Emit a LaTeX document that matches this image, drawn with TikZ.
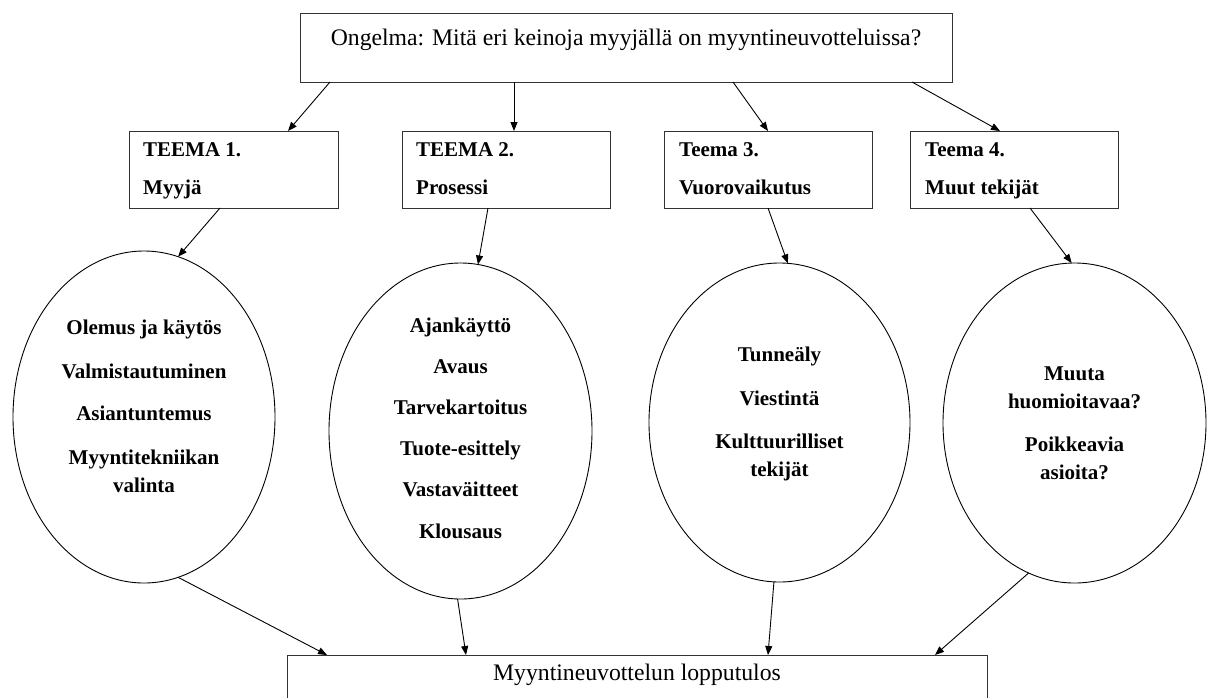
\documentclass[tikz,border=0pt]{standalone}
\usepackage{fontspec}
\setmainfont{Liberation Serif}
\usetikzlibrary{arrows.meta,shapes.geometric}

\tikzset{
  frame/.style={draw=black!80, line width=1pt, rectangle, inner sep=0pt, outer sep=0pt},
  oval/.style={draw=black, line width=0.9pt, ellipse, inner sep=0pt, outer sep=0pt},
  link/.style={draw=black, line width=0.9pt, -{Triangle[length=9pt,width=7pt]}},
  plain/.style={font=\fontsize{23.7}{28}\selectfont, inner sep=0pt},
  theme/.style={font=\fontsize{21}{28}\selectfont\bfseries, inner sep=0pt, anchor=base west},
  items/.style={font=\fontsize{21}{28}\selectfont\bfseries, align=center, inner sep=0pt}
}

\begin{document}
\begin{tikzpicture}[x=1pt, y=-1pt]
\useasboundingbox (0,0) rectangle (1213,697);

% problem statement
\node[frame, minimum width=652pt, minimum height=69pt] (top) at (626,47.5) {};
\node[plain, anchor=base] (toptxt) at (626,45) {Ongelma: Mitä eri keinoja myyjällä on myyntineuvotteluissa?};

% themes
\node[frame, minimum width=209pt, minimum height=77pt] (t1) at (233.5,169.5) {};
\node[frame, minimum width=208pt, minimum height=77pt] (t2) at (506,169.5) {};
\node[frame, minimum width=208pt, minimum height=77pt] (t3) at (768,169.5) {};
\node[frame, minimum width=208pt, minimum height=77pt] (t4) at (1014,169.5) {};

\node[theme] (t1a) at (143,156) {TEEMA 1.};
\node[theme] (t1b) at (143,194) {Myyjä};
\node[theme] (t2a) at (416,156) {TEEMA 2.};
\node[theme] (t2b) at (416,194) {Prosessi};
\node[theme] (t3a) at (679,156) {Teema 3.};
\node[theme] (t3b) at (679,194) {Vuorovaikutus};
\node[theme] (t4a) at (925,156) {Teema 4.};
\node[theme] (t4b) at (925,194) {Muut tekijät};

% topic ellipses
\node[oval, minimum width=262pt, minimum height=332pt] (e1) at (144,417) {};
\node[oval, minimum width=263pt, minimum height=336pt] (e2) at (460.5,431) {};
\node[oval, minimum width=261pt, minimum height=319pt] (e3) at (779.5,422.5) {};
\node[oval, minimum width=263pt, minimum height=320pt] (e4) at (1074.5,423) {};

\node[items] (e1t) at (144,406) {Olemus ja käytös\\[16pt]Valmistautuminen\\[14pt]Asiantuntemus\\[16pt]Myyntitekniikan\\valinta};
\node[items] (e2t) at (460.5,428) {Ajankäyttö\\[13.2pt]Avaus\\[13.2pt]Tarvekartoitus\\[13.2pt]Tuote-esittely\\[13.2pt]Vastaväitteet\\[13.2pt]Klousaus};
\node[items] (e3t) at (779.5,414) {Tunneäly\\[16pt]Viestintä\\[15pt]Kulttuurilliset\\tekijät};
\node[items] (e4t) at (1074.5,423) {Muuta\\huomioitavaa?\\[15pt]Poikkeavia\\asioita?};

% outcome
\node[frame, minimum width=700pt, minimum height=60pt, anchor=north] (bot) at (637,655) {};
\node[plain, anchor=base] (bottxt) at (637,680) {Myyntineuvottelun lopputulos};

% problem -> themes
\draw[link] ([xshift=30pt]top.south west) -- ([xshift=-50pt]t1.north east);
\draw[link] ([xshift=214pt]top.south west) -- ([xshift=112pt]t2.north west);
\draw[link] ([xshift=433pt]top.south west) -- (t3.north);
\draw[link] ([xshift=612pt]top.south west) -- ([xshift=90pt]t4.north west);

% themes -> topics
\draw[link] ([xshift=91pt]t1.south west) -- (e1.78);
\draw[link] ([xshift=86pt]t2.south west) -- (e2.84);
\draw[link] (t3.south) -- (e3.87);
\draw[link] ([xshift=120pt]t4.south west) -- (e4.91);

% topics -> outcome
\draw[link] (e1.-78) -- ([xshift=40pt]bot.north west);
\draw[link] (e2.-91) -- ([xshift=179pt]bot.north west);
\draw[link] (e3.-92) -- ([xshift=481pt]bot.north west);
\draw[link] (e4.-107) -- ([xshift=648pt]bot.north west);
\end{tikzpicture}
\end{document}
